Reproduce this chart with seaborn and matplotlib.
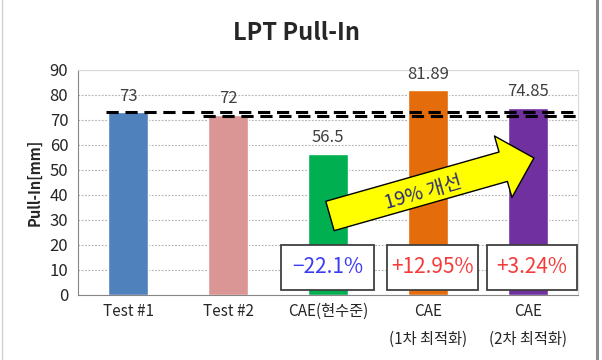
import numpy as np
import pandas as pd
import matplotlib
matplotlib.use("Agg")
import matplotlib.pyplot as plt
import seaborn as sns
from matplotlib.patches import FancyArrowPatch, Rectangle
from matplotlib.lines import Line2D

# data
categories = ["Test #1", "Test #2", "CAE(현수준)", "CAE\n(1차 최적화)", "CAE\n(2차 최적화)"]
values = [73, 72, 56.5, 81.89, 74.85]
value_labels = ["73", "72", "56.5", "81.89", "74.85"]
bar_colors = ["#4F81BD", "#DA9694", "#00B050", "#E46C0A", "#7030A0"]
changes = ["−22.1%", "+12.95%", "+3.24%"]
change_colors = ["#3B3BF5", "#F53B3B", "#F53B3B"]
arrow_text = "19% 개선"

sns.set_style("white")
plt.rcParams['font.family'] = ['Noto Sans CJK KR', 'DejaVu Sans']

df = pd.DataFrame({"cat": categories, "val": values})

fig = plt.figure(figsize=(6.02, 3.6), dpi=100)
ax = fig.add_axes([0.1296, 0.1806, 0.8304, 0.625])

sns.barplot(data=df, x="cat", y="val", hue="cat", palette=bar_colors,
            width=0.4, legend=False, ax=ax, saturation=1)

ax.set_ylim(0, 90)
ax.set_xlim(-0.5, 4.5)
ax.set_yticks(range(0, 91, 10))
ax.yaxis.grid(True, linestyle=(0, (1.5, 1.5)), color="#b0b0b0", linewidth=0.8)
ax.set_axisbelow(True)

# category ticks between bars
ax.set_xticks(range(len(categories)))
ax.set_xticklabels(categories, fontsize=11, color="#262626", linespacing=1.8)
ax.set_xticks(np.arange(-0.5, 5, 1), minor=True)
ax.tick_params(axis="x", which="major", length=0, pad=6)
ax.tick_params(axis="x", which="minor", length=5, color="#868686", width=0.8)
ax.tick_params(axis="y", length=4, color="#868686", width=0.8, labelsize=12,
               labelcolor="#262626", pad=3)

for side in ["top", "right"]:
    ax.spines[side].set_color("#d9d9d9")
for side in ["left", "bottom"]:
    ax.spines[side].set_color("#868686")
for s in ax.spines.values():
    s.set_linewidth(0.8)

ax.set_xlabel("")
ax.set_ylabel("Pull-In[mm]", fontsize=10.5, fontweight="bold", labelpad=5)
fig.text(0.493, 0.908, "LPT Pull-In", ha="center", va="center",
         fontsize=17, fontweight="bold")

# value labels
for i, (v, t) in enumerate(zip(values, value_labels)):
    ax.text(i, v + 3, t, ha="center", va="bottom", fontsize=12, color="#404040")

# dashed reference lines at test levels
ax.hlines(values[0], -0.22, 4.49, colors="black", linestyles=(0, (4, 2.2)), linewidth=2.2, zorder=5)
ax.hlines(values[1] - 0.5, 0.75, 4.49, colors="black", linestyles=(0, (4, 2.2)), linewidth=2.2, zorder=5)

# change boxes
box_left = [1.53, 2.59, 3.59]
box_w = [0.93, 0.91, 0.90]
for x0, w, txt, c in zip(box_left, box_w, changes, change_colors):
    ax.add_patch(Rectangle((x0, 2), w, 18, fc="white", ec="#404040", lw=1.3, zorder=6))
    ax.text(x0 + w / 2, 11, txt, ha="center", va="center", fontsize=15, color=c, zorder=7)

# yellow arrow
arrow = FancyArrowPatch((2.02, 31.6), (4.06, 54.8),
                        arrowstyle="simple,tail_width=22,head_width=46,head_length=23",
                        mutation_scale=1, fc="#FFFF00", ec="black", lw=1.0,
                        shrinkA=0, shrinkB=0, zorder=6)
ax.add_patch(arrow)
ax.text(2.95, 41.0, arrow_text, ha="center", va="center", rotation=16,
        fontsize=14, color="#2B2B7A", zorder=7)

# outer frame lines
fig.add_artist(Line2D([0.992, 0.992], [0, 1], transform=fig.transFigure,
                      color="#8c8c8c", linewidth=2.2))
fig.add_artist(Line2D([0.003, 0.003], [0, 1], transform=fig.transFigure,
                      color="#d0d0d0", linewidth=1.0))

fig.savefig("out.png", dpi=100)
